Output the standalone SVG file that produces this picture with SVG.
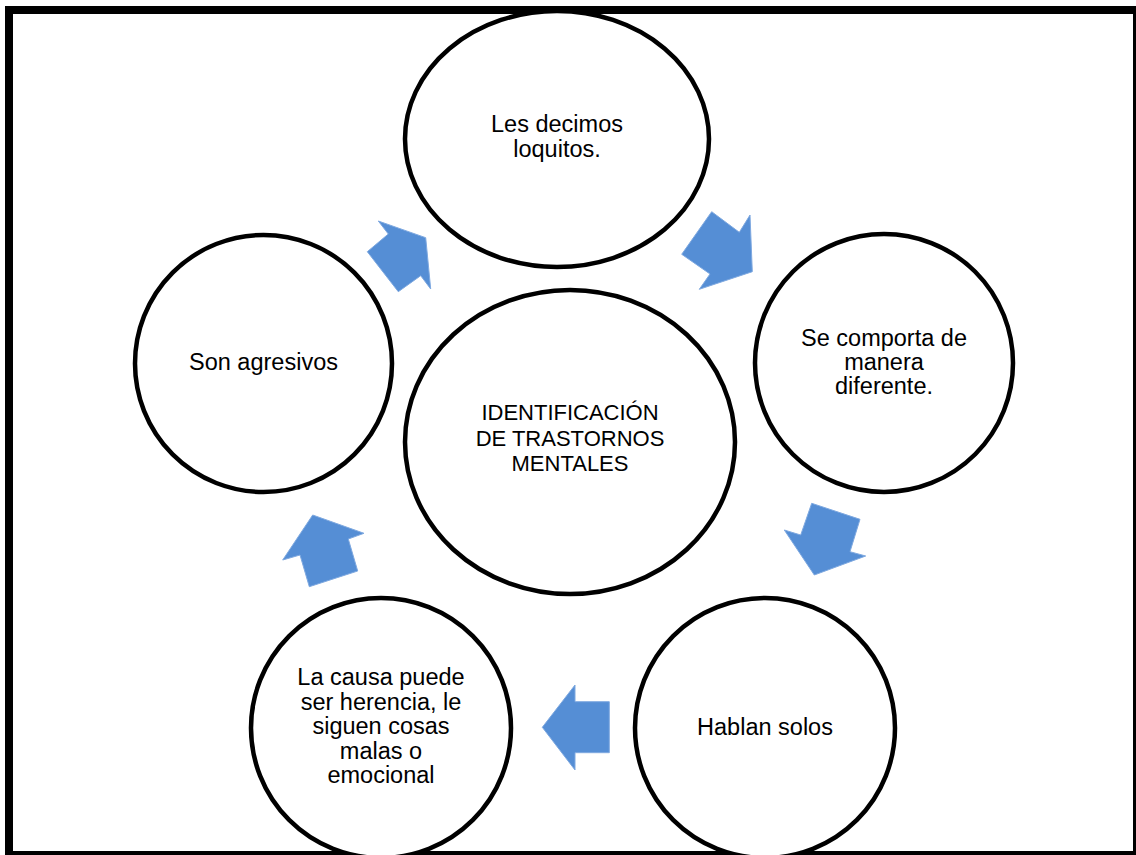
<svg xmlns="http://www.w3.org/2000/svg" width="1136" height="855" viewBox="0 0 1136 855">
  <style>
    .node ellipse { fill: #ffffff; stroke: #000000; stroke-width: 4.5; }
    .node text { font-family: "Liberation Sans", Arial, sans-serif; font-size: 23.5px; fill: #000000; text-anchor: middle; }
    #center text { font-size: 22px; }
    .arrow { fill: #558ED5; stroke: #7FA9E0; stroke-width: 1; stroke-linejoin: miter; }
  </style>

  <!-- page frame -->
  <rect x="0" y="0" width="1136" height="855" fill="#ffffff"/>
  <g id="frame" fill="#000000">
    <rect x="5" y="6" width="1131" height="8"/>
    <rect x="5" y="6" width="8" height="849"/>
    <rect x="1133" y="6" width="3" height="849"/>
    <rect x="5" y="851" width="1131" height="4"/>
  </g>

  <!-- nodes -->
  <g id="n-top" class="node">
    <ellipse cx="557" cy="139" rx="152" ry="128"/>
    <text x="557" y="132">Les decimos</text>
    <text x="557" y="157">loquitos.</text>
  </g>

  <g id="n-right" class="node">
    <ellipse cx="884" cy="363" rx="129" ry="129"/>
    <text x="884" y="346">Se comporta de</text>
    <text x="884" y="370">manera</text>
    <text x="884" y="394">diferente.</text>
  </g>

  <g id="n-bottom-right" class="node">
    <ellipse cx="765" cy="728" rx="130" ry="130"/>
    <text x="765" y="735">Hablan solos</text>
  </g>

  <g id="n-bottom-left" class="node">
    <ellipse cx="381" cy="728" rx="130" ry="130"/>
    <text x="381" y="685">La causa puede</text>
    <text x="381" y="710">ser herencia, le</text>
    <text x="381" y="734">siguen cosas</text>
    <text x="381" y="759">malas o</text>
    <text x="381" y="783">emocional</text>
  </g>

  <g id="n-left" class="node">
    <ellipse cx="263.5" cy="363.5" rx="128.5" ry="128.5"/>
    <text x="263.5" y="370">Son agresivos</text>
  </g>

  <g id="center" class="node">
    <ellipse cx="570" cy="442" rx="165" ry="152"/>
    <text x="570" y="420">IDENTIFICACIÓN</text>
    <text x="570" y="446">DE TRASTORNOS</text>
    <text x="570" y="471">MENTALES</text>
  </g>

  <!-- block arrows around the cycle -->
  <g id="connectors">
    <polygon class="arrow" points="711.7,211.7 739.3,232.3 750,215 752.3,271.7 699.3,289.3 710,274 681.7,254.3"/>
    <polygon class="arrow" points="811.7,503.3 860,519.3 850,551.7 865.7,556 814.3,575 784.3,530 800.7,535"/>
    <polygon class="arrow" points="575,685 575,701.7 609.3,701.7 609.3,752.7 575,752.7 575,770 542.3,727.3"/>
    <polygon class="arrow" points="312.7,515 364,533.3 348.3,539 357.7,571 309.3,586.7 300,555 282.7,560"/>
    <polygon class="arrow" points="378.3,221 425.7,237.7 430.7,289 420.7,275.7 398.3,291.7 367.3,251.7 388.3,234"/>
  </g>
</svg>
